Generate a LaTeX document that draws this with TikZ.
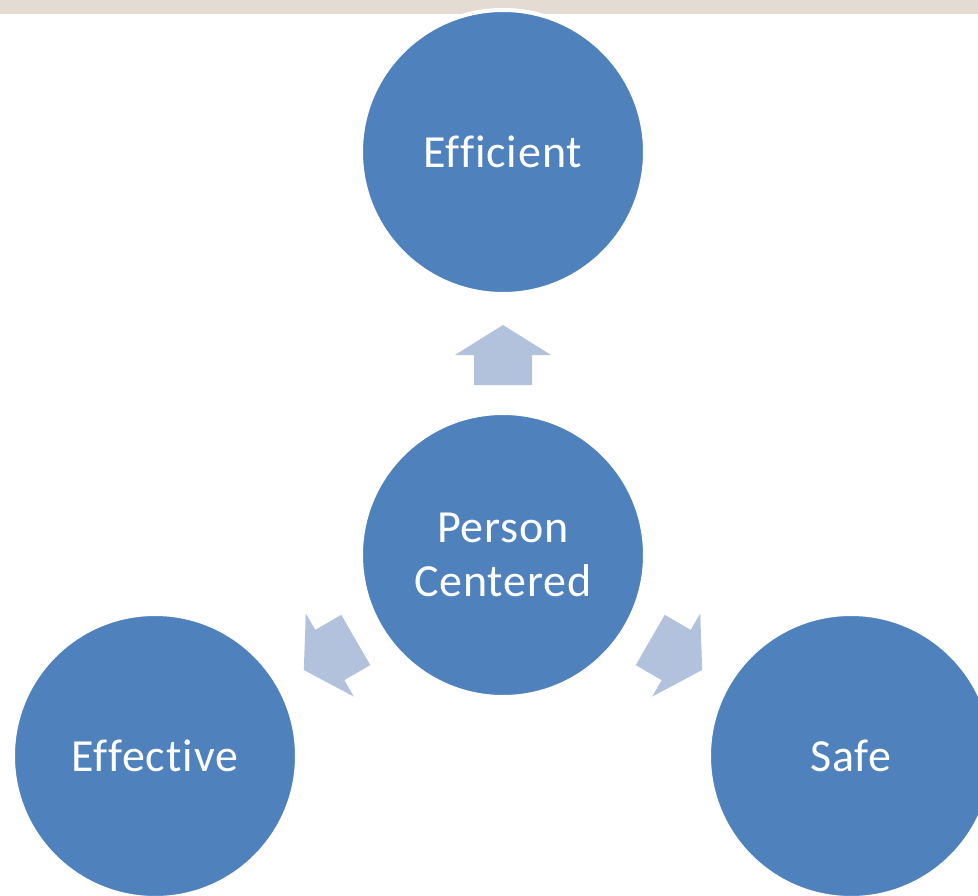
\documentclass[tikz,border=0pt]{standalone}
\usepackage{fontspec}
\setmainfont[Ligatures={NoCommon}, LetterSpace=2]{Carlito}
\definecolor{circblue}{HTML}{4F81BD}
\definecolor{arrblue}{HTML}{B2C2DC}
\definecolor{bandbeige}{HTML}{E4DCD3}
\tikzset{
  bubble/.style={circle, fill=circblue, draw=white, line width=4pt, minimum size=284pt, inner sep=0pt,
    text=white, font=\fontsize{46pt}{54pt}\selectfont, align=center},
  blockarrow/.style={fill=arrblue, draw=none}
}
\newcommand{\blockarrowshape}{(170,-29) -- (200,-29) -- (200,-48) -- (230,0) -- (200,48) -- (200,29) -- (170,29) -- cycle}
\begin{document}
\begin{tikzpicture}[x=1pt,y=-1pt]
\useasboundingbox (0,0) rectangle (978,896);
\fill[bandbeige] (0,0) rectangle (978,14);
\begin{scope}
\clip (0,0) rectangle (978,896);
\node[bubble] (eff) at (503,152) {Efficient};
\node[bubble] (pc) at (503,555) {Person\\Centered};
\node[bubble] (effe) at (155,756) {Effective};
\node[bubble] (safe) at (851,756) {Safe};
\end{scope}
\begin{scope}[shift={(pc.center)}, x=1pt, y=1pt, rotate=90]
\fill[blockarrow] \blockarrowshape;
\end{scope}
\begin{scope}[shift={(pc.center)}, x=1pt, y=1pt, rotate=210]
\fill[blockarrow] \blockarrowshape;
\end{scope}
\begin{scope}[shift={(pc.center)}, x=1pt, y=1pt, rotate=330]
\fill[blockarrow] \blockarrowshape;
\end{scope}
\end{tikzpicture}
\end{document}
